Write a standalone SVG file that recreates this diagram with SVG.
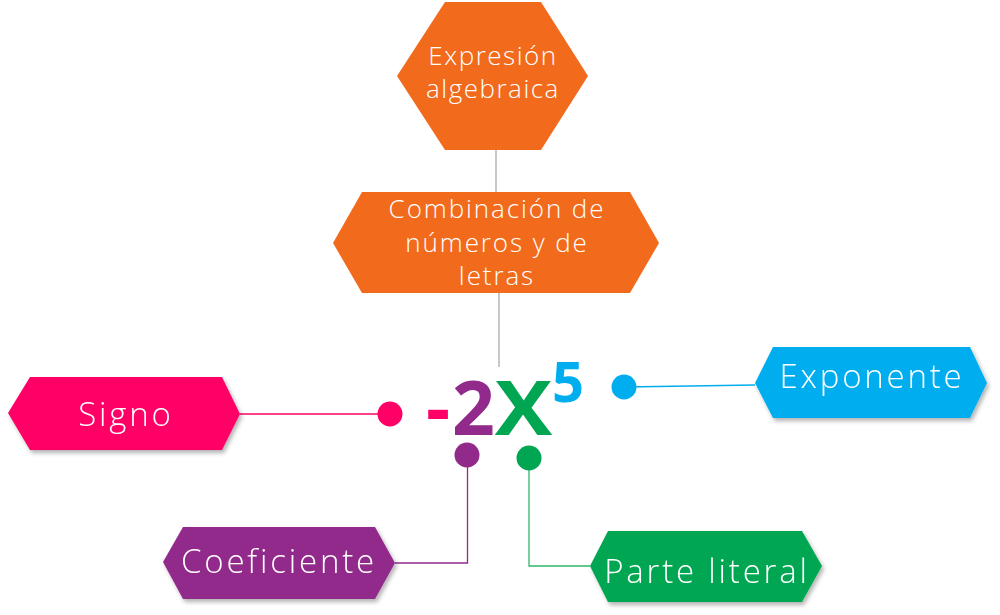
<svg xmlns="http://www.w3.org/2000/svg" width="1000" height="615" viewBox="0 0 1000 615">
<defs>
<filter id="sh" x="-10%" y="-20%" width="130%" height="150%">
<feDropShadow dx="2" dy="3" stdDeviation="2" flood-color="#000" flood-opacity="0.3"/>
</filter>
<style>
.lbl{font-family:"Open Sans","Liberation Sans",sans-serif;font-weight:300;fill:#fff;text-anchor:middle}
.top{font-size:26px;letter-spacing:1.5px}
.mid{font-size:26px;letter-spacing:1.9px}
.side{font-size:33px;letter-spacing:2.8px}
.big{font-family:"Open Sans","Liberation Sans",sans-serif;font-weight:700;text-anchor:middle}
.c{fill:none;stroke-width:1.3}
</style>
</defs>
<rect width="1000" height="615" fill="#fff"/>
<g id="connectors">
<line class="c" x1="496" y1="150" x2="496" y2="192" stroke="#aaaaaa"/>
<line class="c" x1="499" y1="293" x2="499" y2="367" stroke="#aaaaaa"/>
<line class="c" x1="240" y1="414" x2="390" y2="414" stroke="#ff0066"/>
<line class="c" x1="624" y1="387" x2="755" y2="385" stroke="#00aeef"/>
<polyline class="c" points="467.5,455 467.5,563 395,563" stroke="#922a8c"/>
<polyline class="c" points="529,458 529,566 590,566" stroke="#2db86a"/>
<circle cx="390" cy="414" r="12.5" fill="#ff0066"/>
<circle cx="624" cy="387" r="12.5" fill="#00aeef"/>
<circle cx="467" cy="455" r="12.5" fill="#922a8c"/>
<circle cx="529" cy="458" r="12.5" fill="#00a651"/>
</g>
<g id="expresion">
<polygon points="445,2 541,2 588,76 541,150 445,150 397,76" fill="#f26a1b"/>
<text class="lbl top"><tspan x="493" y="65">Expresión</tspan><tspan x="493" y="98">algebraica</tspan></text>
</g>
<g id="combinacion">
<polygon points="362,192 630,192 659,243 630,293 362,293 333,243" fill="#f26a1b"/>
<text class="lbl mid"><tspan x="497" y="218">Combinación de</tspan><tspan x="497" y="252">números y de</tspan><tspan x="497" y="285">letras</tspan></text>
</g>
<g id="formula">
<text class="big" x="438" y="435" font-size="75" fill="#ff0066">-</text>
<text class="big" x="473.5" y="435" font-size="75" fill="#922a8c">2</text>
<text class="big" transform="translate(523.5,435) scale(1.15,1)" font-size="75" fill="#00a651">X</text>
<text class="big" x="568" y="402" font-size="56" fill="#00aeef">5</text>
</g>
<g id="signo" filter="url(#sh)">
<polygon points="30,377 222,377 240,414 222,450 30,450 8,413" fill="#ff0066"/>
<text class="lbl side" x="126" y="426">Signo</text>
</g>
<g id="exponente" filter="url(#sh)">
<polygon points="773,347 970,347 987,383 970,418 773,418 755,383" fill="#00aeef"/>
<text class="lbl side" x="872" y="388">Exponente</text>
</g>
<g id="coeficiente" filter="url(#sh)">
<polygon points="183,527 375,527 395,563 375,599 183,599 163,562" fill="#922a8c"/>
<text class="lbl side" x="279" y="573">Coeficiente</text>
</g>
<g id="parte" filter="url(#sh)">
<polygon points="608,531 802,531 822,566 802,602 608,602 590,566" fill="#00a651"/>
<text class="lbl side" x="707" y="583" letter-spacing="2">Parte literal</text>
</g>
</svg>
